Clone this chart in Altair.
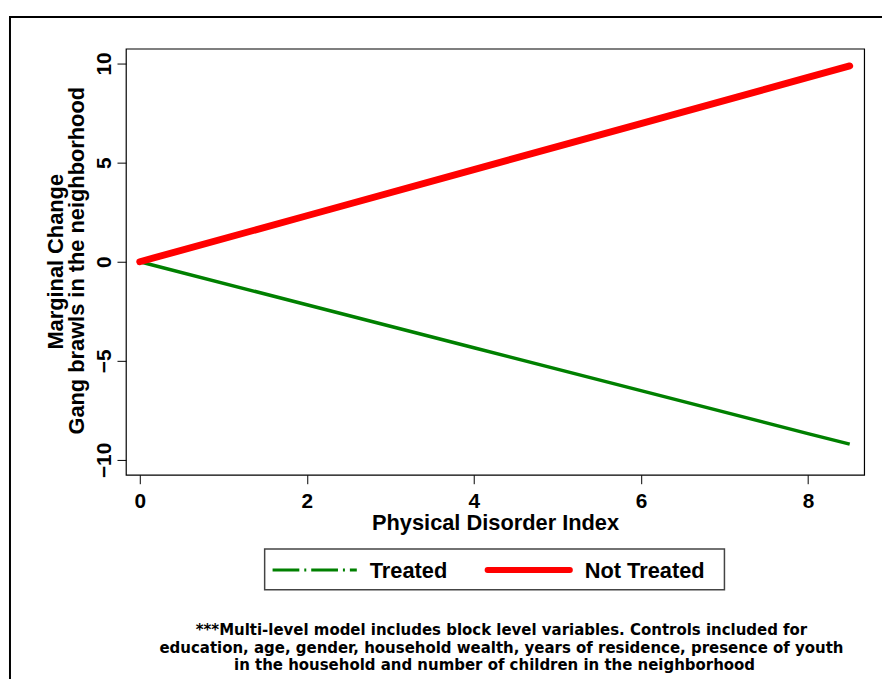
import altair as alt
import pandas as pd

# ---- data ----
x_vals = [0, 2, 4, 6, 8, 8.5]
treated = [0, -2.17, -4.34, -6.50, -8.67, -9.2]
not_treated = [0, 2.32, 4.65, 6.97, 9.30, 9.88]
x_ticks = [0, 2, 4, 6, 8]
y_ticks = [-10, -5, 0, 5, 10]
series_names = ["Treated", "Not Treated"]
x_title = "Physical Disorder Index"
y_title = ["Marginal Change", "Gang brawls in the neighborhood"]
footnote = [
    "***Multi-level model includes block level variables. Controls included for",
    "education, age, gender, household wealth, years of residence, presence of youth",
    "in the household and number of children in the neighborhood",
]

FONT = "Liberation Sans"
NOTE_FONT = "DejaVu Sans"
W, H = 745, 430

df = pd.DataFrame({
    "x": x_vals * 2,
    "y": treated + not_treated,
    "series": [series_names[0]] * len(x_vals) + [series_names[1]] * len(x_vals),
})

xs = alt.Scale(domain=[-0.166, 8.673], nice=False, zero=False)
ys = alt.Scale(domain=[-10.75, 10.75], nice=False, zero=False)

xaxis = alt.Axis(values=x_ticks, title=None, domain=False, grid=False, tickSize=9,
                 tickColor="black", labelFont=FONT, labelFontWeight="bold",
                 labelFontSize=21, labelColor="black", labelPadding=7, format="d")
yaxis = alt.Axis(values=y_ticks, title=None, domain=False, grid=False, tickSize=9,
                 tickColor="black", labelFont=FONT, labelFontWeight="bold",
                 labelFontSize=21, labelColor="black", labelAngle=270,
                 labelAlign="center", labelBaseline="alphabetic", labelPadding=7,
                 format="d")

base = alt.Chart(df)
green = base.transform_filter(alt.datum.series == "Treated").mark_line(
    color="#008000", strokeWidth=3.5).encode(
    x=alt.X("x:Q", scale=xs, axis=xaxis), y=alt.Y("y:Q", scale=ys, axis=yaxis))
red = base.transform_filter(alt.datum.series == "Not Treated").mark_line(
    color="#ff0000", strokeWidth=7, strokeCap="round").encode(
    x=alt.X("x:Q", scale=xs), y=alt.Y("y:Q", scale=ys))

one = pd.DataFrame({"a": [0]})


def txt(s, x, y, size=22, angle=0, align="center", weight="bold", font=FONT):
    return alt.Chart(one).mark_text(
        text=s, font=font, fontSize=size, fontWeight=weight, color="black",
        angle=angle, align=align, baseline="middle").encode(
        x=alt.value(x), y=alt.value(y))


# origin of plot area on page: (127, 46)
OX, OY = 127, 46

frame = alt.Chart(one).mark_rect(fill=None, stroke="black", strokeWidth=2).encode(
    x=alt.value(10 - OX), x2=alt.value(900 - OX), y=alt.value(14 - OY), y2=alt.value(710 - OY))

legend_box = alt.Chart(one).mark_rect(fill="white", stroke="#444444", strokeWidth=1.5).encode(
    x=alt.value(267 - OX), x2=alt.value(731 - OX), y=alt.value(551 - OY), y2=alt.value(592 - OY))
leg_green = alt.Chart(one).mark_rule(color="#008000", strokeWidth=3,
                                     strokeDash=[27, 5, 2, 5]).encode(
    x=alt.value(275 - OX), x2=alt.value(360 - OX), y=alt.value(572 - OY))
leg_red = alt.Chart(one).mark_rule(color="#ff0000", strokeWidth=6, strokeCap="round").encode(
    x=alt.value(492 - OX), x2=alt.value(575 - OX), y=alt.value(572 - OY))

layers = [
    frame, green, red,
    txt(x_title, 500 - OX, 525 - OY),
    txt(y_title[0], 57 - OX, 261 - OY, angle=270),
    txt(y_title[1], 78 - OX, 260 - OY, angle=270),
    legend_box, leg_green, leg_red,
    txt(series_names[0], 373 - OX, 573 - OY, align="left"),
    txt(series_names[1], 590 - OX, 573 - OY, align="left"),
    txt(footnote[0], 506 - OX, 633 - OY, size=15.1, font=NOTE_FONT),
    txt(footnote[1], 506 - OX, 651 - OY, size=15.1, font=NOTE_FONT),
    txt(footnote[2], 499 - OX, 668 - OY, size=15.1, font=NOTE_FONT),
]

chart = alt.layer(*layers).properties(
    width=W, height=H,
    autosize="none",
    padding={"left": 119, "top": 38, "right": 18, "bottom": 203},
).configure_view(stroke="black", strokeWidth=1.2)

chart.save("out.html", embed_options={"renderer": "svg", "actions": False})
